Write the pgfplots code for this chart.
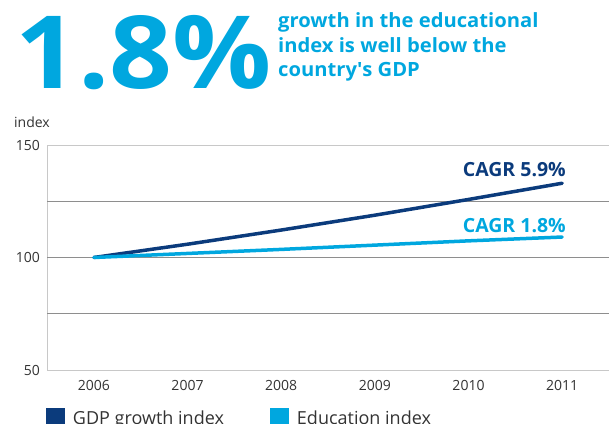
\documentclass[border=0pt]{standalone}
\usepackage{fontspec}
\setmainfont{Open Sans}
\usepackage{pgfplots}
\pgfplotsset{compat=1.18}
\definecolor{navy}{HTML}{0B3B7C}
\definecolor{sky}{HTML}{00A7DF}
\definecolor{gridgray}{HTML}{8E8E8E}
\definecolor{axisgray}{HTML}{C8C8C8}
\definecolor{txt}{HTML}{333333}
\begin{document}
\begin{tikzpicture}[x=1pt,y=1pt]
\useasboundingbox (0,0) rectangle (609,423);
\node[anchor=base west, inner sep=0pt, text=sky, font=\fontsize{101}{101}\selectfont\bfseries] at (15,334) {\scalebox{1.09}[1]{1.8\%}};
\node[anchor=base west, inner sep=0pt, text=sky, font=\fontsize{19.6}{22}\selectfont\bfseries] at (278,395) {\scalebox{1.03}[1]{growth in the educational}};
\node[anchor=base west, inner sep=0pt, text=sky, font=\fontsize{19.6}{22}\selectfont\bfseries] at (278,370) {\scalebox{1.03}[1]{index is well below the}};
\node[anchor=base west, inner sep=0pt, text=sky, font=\fontsize{19.6}{22}\selectfont\bfseries] at (278,346) {\scalebox{1.03}[1]{country\textquotesingle s GDP}};
\node[anchor=base west, inner sep=0pt, text=txt, font=\fontsize{14}{16}\selectfont] at (14,295) {index};
\begin{axis}[at={(47pt,53pt)}, anchor=south west, scale only axis,
  width=562pt, height=225pt,
  xmin=2005.5, xmax=2011.5, ymin=50, ymax=150,
  axis x line*=bottom, axis y line*=left,
  axis line style={axisgray, line width=1pt, -},
  xtick={2006,2007,2008,2009,2010,2011},
  ytick={50,100,150},
  extra y ticks={75,100,125}, extra y tick labels={},
  extra y tick style={grid style={gridgray, line width=0.9pt}},
  ymajorgrids, grid style={axisgray, line width=0.9pt},
  major tick length=0pt,
  /pgf/number format/1000 sep={},
  /pgf/number format/assume math mode=true,
  tick label style={font=\fontsize{14}{16}\selectfont, text=txt},
  xticklabel style={inner sep=0pt, anchor=north, yshift=-10pt},
  yticklabel style={inner sep=0pt, anchor=east, xshift=-7pt},
  clip=false,
  legend columns=2,
  legend style={at={(axis description cs:-0.0018,-0.171)}, anchor=north west, draw=none, fill=none,
    inner sep=0pt, outer sep=0pt, font=\fontsize{18}{20}\selectfont, text=txt,
    nodes={inner sep=0pt},
    /tikz/every odd column/.append style={column sep=7.5pt},
    /tikz/every even column/.append style={column sep=0pt}},
]
\addplot[navy, line width=3.5pt, line cap=round,
  legend image code/.code={\fill[navy] (0pt,-8pt) rectangle (16pt,8pt);}]
  coordinates {(2006,100) (2007,105.9) (2008,112.2) (2009,118.8) (2010,125.8) (2011,133.0)};
\addlegendentry{\makebox[197pt][l]{GDP growth index}}
\addplot[sky, line width=3.5pt, line cap=round,
  legend image code/.code={\fill[sky] (0pt,-8pt) rectangle (16pt,8pt);}]
  coordinates {(2006,100) (2007,101.8) (2008,103.6) (2009,105.5) (2010,107.4) (2011,109.1)};
\addlegendentry{Education index}
\end{axis}
\node[anchor=base east, inner sep=0pt, text=navy, font=\fontsize{19.5}{21}\selectfont\bfseries] at (566,246) {CAGR 5.9\%};
\node[anchor=base east, inner sep=0pt, text=sky, font=\fontsize{19.5}{21}\selectfont\bfseries] at (566,190) {CAGR 1.8\%};
\end{tikzpicture}
\end{document}
